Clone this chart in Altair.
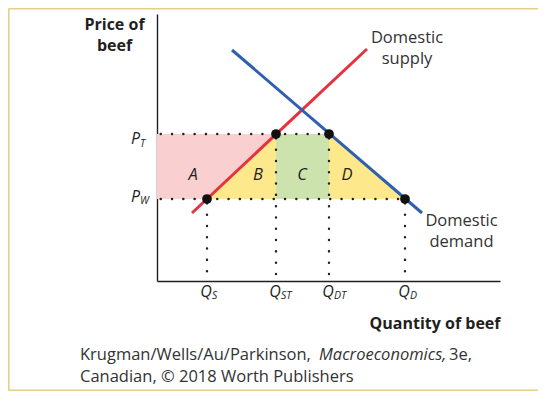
import altair as alt
import pandas as pd

# ---- values (arbitrary units) ----
q_names = ["S", "ST", "DT", "D"]
q_values = [5.0, 11.9, 17.2, 24.8]
q_dot_price = [8.2, 14.7, 14.7, 8.2]        # price level each Q line/dot reaches
p_tariff = 14.7
p_world = 8.2

supply_q = [3.5, 21.0]
supply_p = [6.8, 23.2]
demand_q = [7.5, 26.5]
demand_p = [23.1, 6.8]

region_names = ["A", "B", "C", "D"]
region_colors = ["#f9cfd0", "#fde98b", "#cde3ad", "#fde98b"]
region_label_q = [3.6, 10.1, 14.5, 19.0]
region_label_p = [10.6, 10.6, 10.6, 10.6]

curve_labels = ["Domestic\nsupply", "Domestic\ndemand"]
curve_label_q = [25.0, 30.45]
curve_label_p = [23.8, 5.5]

credit_line1a = "Krugman/Wells/Au/Parkinson,"
credit_line1b = "Macroeconomics,"
credit_line1c = "3e,"
credit_line2 = "Canadian, \u00a9 2018 Worth Publishers"

FONT = "Open Sans"
INK = "#231f20"
TXT = "#333333"

xscale = alt.Scale(domain=[0, 34.3], nice=False, zero=True)
yscale = alt.Scale(domain=[0, 26.7], nice=False, zero=True)
xaxis = alt.Axis(title="Quantity of beef", labels=False, ticks=False, grid=False,
                 domainColor=INK, domainWidth=1.4, titleAnchor="end", titleAlign="right",
                 titleX=343, titleY=47, titleBaseline="alphabetic", titleFont=FONT,
                 titleFontSize=16, titleFontWeight="bold", titleColor=INK)
yaxis = alt.Axis(title=["Price of", "beef"], labels=False, ticks=False, grid=False,
                 domainColor=INK, domainWidth=1.4, titleAngle=0, titleAlign="center",
                 titleX=-43, titleY=15.3, titleBaseline="alphabetic", titleLineHeight=21,
                 titleFont=FONT, titleFontSize=16, titleFontWeight="bold", titleColor=INK)


def X(f):
    return alt.X(f, type="quantitative", scale=xscale, axis=xaxis)


def Y(f):
    return alt.Y(f, type="quantitative", scale=yscale, axis=yaxis)


# ---- shaded regions ----
q_s, q_st, q_dt, q_d = q_values
rows = []
for q, lo, hi in [(0.0, p_world, p_tariff), (q_s, p_world, p_tariff), (q_st, p_tariff, p_tariff)]:
    rows.append({"region": "A", "q": q, "lo": lo, "hi": hi})
for q, lo, hi in [(q_s, p_world, p_world), (q_st, p_world, p_tariff)]:
    rows.append({"region": "B", "q": q, "lo": lo, "hi": hi})
for q, lo, hi in [(q_st, p_world, p_tariff), (q_dt, p_world, p_tariff)]:
    rows.append({"region": "C", "q": q, "lo": lo, "hi": hi})
for q, lo, hi in [(q_dt, p_world, p_tariff), (q_d, p_world, p_world)]:
    rows.append({"region": "D", "q": q, "lo": lo, "hi": hi})
areas_df = pd.DataFrame(rows)

areas = alt.Chart(areas_df).mark_area(opacity=1, interpolate="linear").encode(
    x=X("q"), y=Y("lo"), y2="hi",
    color=alt.Color("region:N", scale=alt.Scale(domain=region_names, range=region_colors), legend=None),
)

# ---- dotted guide lines ----
h_df = pd.DataFrame({"p": [p_tariff, p_world], "q0": [0.0, 0.0], "q1": [q_dt, q_d]})
v_df = pd.DataFrame({"q": q_values, "p0": [0.0] * 4, "p1": q_dot_price})
dot_style = dict(color=INK, strokeWidth=2.4, strokeDash=[0.1, 11.2], strokeCap="round")
h_rules = alt.Chart(h_df).mark_rule(strokeDashOffset=7.6, **dot_style).encode(x=X("q0"), x2="q1", y=Y("p"))
v_rules = alt.Chart(v_df).mark_rule(strokeDashOffset=7.0, **dot_style).encode(x=X("q"), y=Y("p1"), y2="p0")

# ---- curves ----
supply = alt.Chart(pd.DataFrame({"q": supply_q, "p": supply_p})).mark_line(
    color="#e5323f", strokeWidth=3).encode(x=X("q"), y=Y("p"))
demand = alt.Chart(pd.DataFrame({"q": demand_q, "p": demand_p})).mark_line(
    color="#2f5fae", strokeWidth=3).encode(x=X("q"), y=Y("p"))

dots = alt.Chart(pd.DataFrame({"q": q_values, "p": q_dot_price})).mark_point(
    filled=True, size=95, color="#111111", opacity=1).encode(x=X("q"), y=Y("p"))

# ---- labels ----
region_txt = alt.Chart(pd.DataFrame({"q": region_label_q, "p": region_label_p, "t": region_names})).mark_text(
    font=FONT, fontSize=16.5, fontStyle="italic", color=INK, align="center", baseline="middle").encode(
    x=X("q"), y=Y("p"), text="t:N")

curve_txt = alt.Chart(pd.DataFrame({"q": curve_label_q, "p": curve_label_p, "t": curve_labels})).mark_text(
    font=FONT, fontSize=16.5, color=TXT, align="center", baseline="alphabetic", lineBreak="\n",
    lineHeight=21).encode(x=X("q"), y=Y("p"), text="t:N")

q_df = pd.DataFrame({"q": q_values, "p": [0.0] * 4, "main": ["Q"] * 4, "sub": q_names})
q_main = alt.Chart(q_df).mark_text(font=FONT, fontSize=16, fontStyle="italic", color=INK,
                                   align="center", baseline="alphabetic", dy=16, dx=-1).encode(
    x=X("q"), y=Y("p"), text="main:N")
q_sub = alt.Chart(q_df).mark_text(font=FONT, fontSize=10.5, fontStyle="italic", color=INK,
                                  align="left", baseline="alphabetic", dy=18, dx=5).encode(
    x=X("q"), y=Y("p"), text="sub:N")

pt_df = pd.DataFrame({"q": [0.0], "p": [p_tariff], "main": ["P"], "sub": ["T"]})
pw_df = pd.DataFrame({"q": [0.0], "p": [p_world], "main": ["P"], "sub": ["W"]})
p_layers = []
for df, dy_main, dy_sub in [(pt_df, 10, 12.5), (pw_df, 2.5, 4.5)]:
    p_layers.append(alt.Chart(df).mark_text(font=FONT, fontSize=16, fontStyle="italic", color=INK,
                                            align="right", baseline="alphabetic", dx=-17, dy=dy_main).encode(
        x=X("q"), y=Y("p"), text="main:N"))
    p_layers.append(alt.Chart(df).mark_text(font=FONT, fontSize=10.5, fontStyle="italic", color=INK,
                                            align="left", baseline="alphabetic", dx=-17, dy=dy_sub).encode(
        x=X("q"), y=Y("p"), text="sub:N"))


# ---- credit lines (below the plot) ----
def credit(t, x, y, style="normal"):
    return alt.Chart(pd.DataFrame({"t": [t]})).mark_text(
        font=FONT, fontSize=16.5, fontStyle=style, color=TXT, align="left", baseline="alphabetic").encode(
        text="t:N", x=alt.value(x), y=alt.value(y))


credits = [
    credit(credit_line1a, -77, 346),
    credit(credit_line1b, 162, 346, "italic"),
    credit(credit_line1c, 292, 346),
    credit(credit_line2, -77, 368),
]

# ---- frame line (top, left, bottom) ----
frame_color = "#e4d089"
frame = [
    alt.Chart(pd.DataFrame({"k": [0]})).mark_rule(color=frame_color, strokeWidth=1.6).encode(
        x=alt.value(-148.5), x2=alt.value(381), y=alt.value(-5.2)),
    alt.Chart(pd.DataFrame({"k": [0]})).mark_rule(color=frame_color, strokeWidth=1.6).encode(
        x=alt.value(-148.2), y=alt.value(-5.5), y2=alt.value(376.5)),
    alt.Chart(pd.DataFrame({"k": [0]})).mark_rule(color=frame_color, strokeWidth=1.6).encode(
        x=alt.value(-148.5), x2=alt.value(381), y=alt.value(376.2)),
]

chart = alt.layer(
    areas, h_rules, v_rules, supply, demand, dots, region_txt, curve_txt, q_main, q_sub,
    *p_layers, *credits, *frame
).properties(
    width=343, height=267,
    autosize=alt.AutoSizeParams(type="none"),
    padding={"left": 149, "top": 6, "right": 38, "bottom": 110},
).configure_view(stroke=None)

chart.save("out.html", embed_options={"renderer": "svg", "actions": False})
